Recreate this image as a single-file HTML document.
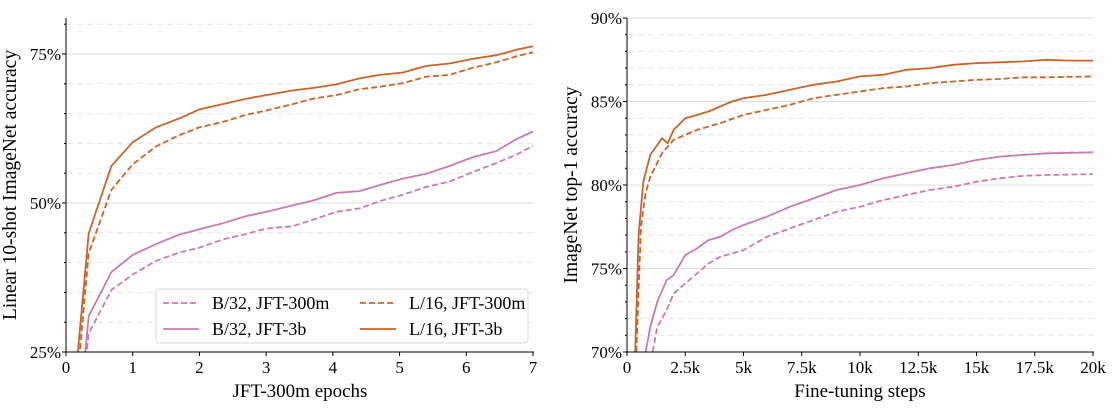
<!DOCTYPE html>
<html><head><meta charset="utf-8"><style>
body{margin:0;background:#fff}
svg{display:block;font-family:"Liberation Serif",serif}
</style></head><body>
<svg id="c" width="1114" height="408">
<defs>
<clipPath id="cl"><rect x="66" y="10" width="468" height="342"/></clipPath>
<clipPath id="cr"><rect x="627" y="10" width="467" height="342"/></clipPath>
</defs>
</svg>
<script>
// ---- Left chart data ----
const lEpochsL3b=[0.17,0.34,0.68,1.0,1.35,1.7,2.0,2.35,2.7,3.0,3.4,3.7,4.05,4.4,4.7,5.05,5.4,5.75,6.1,6.45,6.75,7];
const lValsL3b=[24,44.9,56.2,60.2,62.7,64.2,65.7,66.6,67.5,68.1,68.9,69.3,69.9,70.9,71.5,71.9,73.0,73.4,74.2,74.8,75.7,76.3];
const lEpochsL300=[0.2,0.34,0.68,1.0,1.35,1.7,2.0,2.35,2.7,3.0,3.4,3.7,4.05,4.4,4.7,5.05,5.4,5.75,6.1,6.45,6.75,7];
const lValsL300=[24,41.6,52.2,56.5,59.5,61.4,62.7,63.6,64.8,65.5,66.6,67.5,68.1,69.1,69.5,70.1,71.2,71.5,72.7,73.6,74.6,75.3];
const lEpochsB3b=[0.28,0.34,0.68,1.0,1.35,1.7,2.0,2.35,2.7,3.0,3.4,3.7,4.05,4.4,4.7,5.05,5.4,5.75,6.1,6.45,6.75,7];
const lValsB3b=[24,31.0,38.4,41.3,43.1,44.7,45.6,46.6,47.8,48.5,49.6,50.4,51.7,52.0,53.0,54.1,54.9,56.2,57.7,58.7,60.7,62.0];
const lEpochsB300=[0.3,0.34,0.68,1.0,1.35,1.7,2.0,2.35,2.7,3.0,3.4,3.7,4.05,4.4,4.7,5.05,5.4,5.75,6.1,6.45,6.75,7];
const lValsB300=[24,28.1,35.4,38.0,40.3,41.7,42.5,43.9,44.8,45.7,46.1,47.2,48.5,49.1,50.3,51.4,52.7,53.6,55.2,56.7,58.1,59.6];
const lXTicks=[0,1,2,3,4,5,6,7];
const lYTicks=[25,50,75];
// ---- Right chart data (steps in k) ----
const rStepsL3b=[0.35,0.5,0.7,1,1.5,1.75,2,2.5,3,3.5,4,4.5,5,6,7,8,9,10,11,12,13,14,15,16,17,18,19,20];
const rValsL3b=[70,77,80.2,81.8,82.8,82.5,83.3,84.0,84.2,84.4,84.7,85.0,85.2,85.4,85.7,86.0,86.2,86.5,86.6,86.9,87.0,87.2,87.3,87.35,87.4,87.5,87.45,87.45];
const rStepsL300=[0.4,0.6,0.8,1,1.5,2,2.5,3,4,5,6,7,8,9,10,11,12,13,14,15,16,17,18,20];
const rValsL300=[70,77.5,79.5,80.5,81.9,82.7,83.0,83.3,83.7,84.2,84.5,84.8,85.2,85.4,85.6,85.8,85.9,86.1,86.2,86.3,86.35,86.45,86.45,86.5];
const rStepsB3b=[0.8,1,1.3,1.7,2,2.5,3,3.5,4,4.5,5,6,7,8,9,10,11,12,13,14,15,16,17,18,20];
const rValsB3b=[70,71.5,73,74.3,74.6,75.8,76.2,76.7,76.9,77.3,77.6,78.1,78.7,79.2,79.7,80.0,80.4,80.7,81.0,81.2,81.5,81.7,81.8,81.9,81.95];
const rStepsB300=[1.1,1.3,1.7,2,2.5,3,3.5,4,5,6,7,8,9,10,11,12,13,14,15,16,17,18,20];
const rValsB300=[70,71.5,72.5,73.5,74.1,74.7,75.3,75.7,76.1,76.9,77.4,77.9,78.4,78.7,79.1,79.4,79.7,79.9,80.2,80.4,80.55,80.6,80.65];
const rXTicks=[0,2.5,5,7.5,10,12.5,15,17.5,20];
const rXLabels=["0","2.5k","5k","7.5k","10k","12.5k","15k","17.5k","20k"];
const rYTicks=[70,75,80,85,90];

const PINK="#c77cb0", ORANGE="#c8652a";
const svg=document.getElementById('c');
const NS="http://www.w3.org/2000/svg";
function mk(t,a,p){const e=document.createElementNS(NS,t);for(const k in a)e.setAttribute(k,a[k]);(p||svg).appendChild(e);return e;}

const lx=v=>66+(v/7)*467, ly=v=>352-(v-25)*(149/25);
const rx=v=>627+(v/20)*466, ry=v=>352-(v-70)*(334/20);

function grid(yf,minor,major,x0,x1){
  minor.forEach(v=>{const e=mk('line',{x1:x0,x2:x1,y1:yf(v),y2:yf(v),stroke:'#e6e6e6','stroke-width':1,'stroke-dasharray':'6,4'});
    
    });
  major.forEach(v=>{const e=mk('line',{x1:x0,x2:x1,y1:yf(v),y2:yf(v),stroke:'#dcdcdc','stroke-width':1});
    
    });
}
grid(ly,[30,35,40,45,55,60,65,70,80],[50,75],67,534);
grid(ry,[71,72,73,74,76,77,78,79,81,82,83,84,86,87,88,89],[75,80,85,90],628,1094);

function line(xs,ys,xf,yf,col,dash,clip,name){
  const pts=xs.map((x,i)=>xf(x).toFixed(1)+','+yf(ys[i]).toFixed(1)).join(' ');
  const e=mk('polyline',{points:pts,fill:'none',stroke:col,'stroke-width':1.8,'stroke-dasharray':dash?'6,3':'none','clip-path':'url(#'+clip+')','stroke-linejoin':'round'});
  
  
}
line(lEpochsB300,lValsB300,lx,ly,PINK,true,'cl','line-b32-jft300m');
line(lEpochsB3b,lValsB3b,lx,ly,PINK,false,'cl','line-b32-jft3b');
line(lEpochsL300,lValsL300,lx,ly,ORANGE,true,'cl','line-l16-jft300m');
line(lEpochsL3b,lValsL3b,lx,ly,ORANGE,false,'cl','line-l16-jft3b');
line(rStepsB300,rValsB300,rx,ry,PINK,true,'cr','line-b32-jft300m-ft');
line(rStepsB3b,rValsB3b,rx,ry,PINK,false,'cr','line-b32-jft3b-ft');
line(rStepsL300,rValsL300,rx,ry,ORANGE,true,'cr','line-l16-jft300m-ft');
line(rStepsL3b,rValsL3b,rx,ry,ORANGE,false,'cr','line-l16-jft3b-ft');

function axes(x0,x1,y0,yTop,xt,xl,xf,yt,yl,yf,minorY,xname,yname,xlab,ylab,xlabX){
  let e=mk('line',{x1:x0,x2:x0,y1:yTop,y2:y0,stroke:'#000','stroke-width':1});
  
  e=mk('line',{x1:x0,x2:x1,y1:y0,y2:y0,stroke:'#000','stroke-width':1});
  
  xt.forEach((v,i)=>{mk('line',{x1:xf(v),x2:xf(v),y1:y0,y2:y0+4,stroke:'#000'});
    const t=mk('text',{x:xf(v),y:y0+21,'text-anchor':'middle','font-size':17});t.textContent=xl[i];
    });
  minorY.forEach(v=>mk('line',{x1:x0-2,x2:x0,y1:yf(v),y2:yf(v),stroke:'#000'}));
  yt.forEach((v,i)=>{mk('line',{x1:x0-4,x2:x0,y1:yf(v),y2:yf(v),stroke:'#000'});
    const t=mk('text',{x:x0-5,y:yf(v)+6,'text-anchor':'end','font-size':17});t.textContent=yl[i];
    });
  let t=mk('text',{x:xlabX,y:397,'text-anchor':'middle','font-size':19});t.textContent=xlab;
  
  const cy=(y0+yTop)/2;
  t=mk('text',{x:0,y:0,'text-anchor':'middle','font-size':19.5,transform:'translate('+(x0-50)+','+cy+') rotate(-90)'});t.textContent=ylab;
  
}
axes(66,534,352,18,lXTicks,lXTicks.map(String),lx,lYTicks,lYTicks.map(v=>v+'%'),ly,[30,35,40,45,55,60,65,70,80],'left-x-axis-title','left-y-axis-title','JFT-300m epochs','Linear 10-shot ImageNet accuracy',300);
axes(627,1094,352,18,rXTicks,rXLabels,rx,rYTicks,rYTicks.map(v=>v+'%'),ry,[71,72,73,74,76,77,78,79,81,82,83,84,86,87,88,89],'right-x-axis-title','right-y-axis-title','Fine-tuning steps','ImageNet top-1 accuracy',860);

// Legend
const lg=mk('g',{});


mk('rect',{x:156,y:289,width:372,height:54,rx:3,fill:'#fff','fill-opacity':0.85,stroke:'#d8d8d8'},lg);
const legNames=["B/32, JFT-300m","L/16, JFT-300m","B/32, JFT-3b","L/16, JFT-3b"];
const legCols=[PINK,ORANGE,PINK,ORANGE], legDash=[true,true,false,false];
legNames.forEach((n,i)=>{
  const cx=i%2?360:163, cy=i<2?303:329;
  const g=mk('g',{},lg);
  
  
  mk('line',{x1:cx,x2:cx+36,y1:cy,y2:cy,stroke:legCols[i],'stroke-width':1.8,'stroke-dasharray':legDash[i]?'6,3':'none'},g);
  const t=mk('text',{x:cx+49,y:cy+6,'font-size':18},g);t.textContent=n;
});
</script>
</body></html>
